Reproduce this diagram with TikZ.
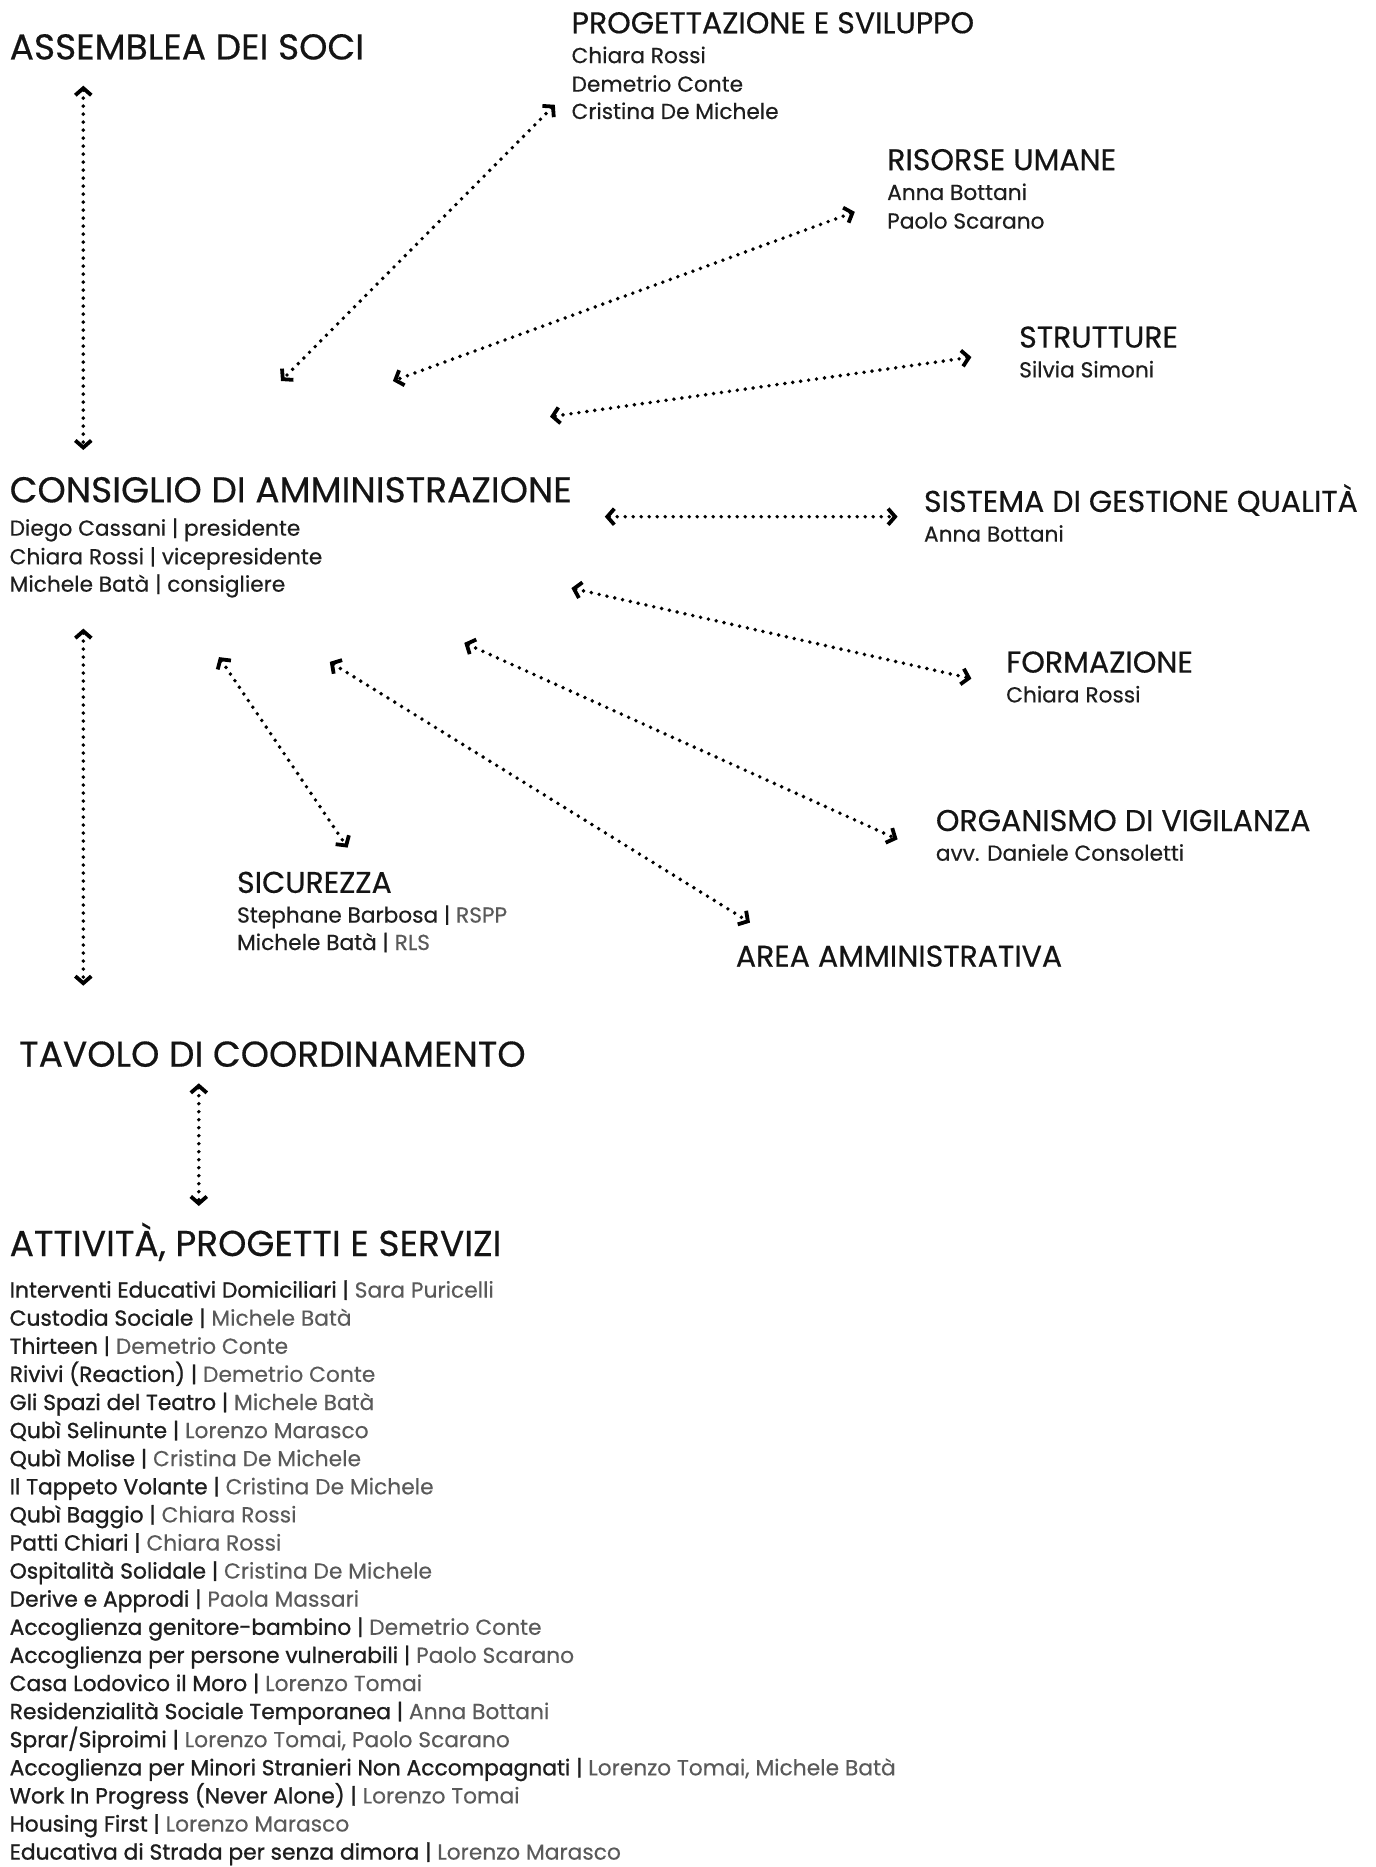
\documentclass[tikz,border=0pt]{standalone}
\usepackage{fontspec}
\setmainfont{Poppins}[FakeBold=0.4]
\newfontfamily\pitem{Poppins}[FakeBold=1.0]
\newfontfamily\pname{Poppins}[FakeBold=0.2]
\usetikzlibrary{arrows.meta}
\definecolor{ink}{HTML}{141414}
\definecolor{sub}{HTML}{1E1E1E}
\definecolor{soft}{HTML}{5A5A5A}
\newcommand{\lrow}[2]{{\pitem #1 |} \textcolor{soft}{\pname #2}}
\begin{document}
\begin{tikzpicture}[x=1pt,y=-1pt,
  big/.style={anchor=base west, inner sep=0pt, text=ink, font=\fontsize{36}{42}\selectfont},
  mid/.style={anchor=base west, inner sep=0pt, text=ink, font=\fontsize{30}{34}\selectfont},
  nm/.style={anchor=base west, inner sep=0pt, text=sub, font=\fontsize{21.7}{25}\selectfont},
  lst/.style={anchor=base west, inner sep=0pt, text=sub, font=\fontsize{21.8}{25}\selectfont},
  conn/.style={line width=3.9pt, line cap=round, dash pattern=on 0pt off 8pt,
    {Straight Barb[length=7pt,width=16pt,line width=3.8pt]}-{Straight Barb[length=7pt,width=16pt,line width=3.8pt]}}]
\useasboundingbox[fill=white] (0,0) rectangle (1375,1867);

% headings
\node[big] (ass) at (9.5,59.5) {ASSEMBLEA DEI SOCI};
\node[mid] (prog) at (571.4,33.3) {PROGETTAZIONE E SVILUPPO};
\node[nm] (prog1) at (571.4,63.1) {Chiara Rossi};
\node[nm] (prog2) at (571.4,91.7) {Demetrio Conte};
\node[nm] (prog3) at (571.4,119) {Cristina De Michele};

\node[mid] (ris) at (887,170.2) {RISORSE UMANE};
\node[nm] (ris1) at (887,200) {Anna Bottani};
\node[nm] (ris2) at (887,228.6) {Paolo Scarano};

\node[mid] (str) at (1019,347.6) {STRUTTURE};
\node[nm] (str1) at (1019,377.4) {Silvia Simoni};

\node[big] (cda) at (9.5,502.4) {CONSIGLIO DI AMMINISTRAZIONE};
\node[nm] (cda1) at (9.5,535.7) {Diego Cassani | presidente};
\node[nm] (cda2) at (9.5,564.3) {Chiara Rossi | vicepresidente};
\node[nm] (cda3) at (9.5,591.7) {Michele Batà | consigliere};

\node[mid] (sgq) at (923.8,511.9) {SISTEMA DI GESTIONE QUALITÀ};
\node[nm] (sgq1) at (923.8,541.7) {Anna Bottani};

\node[mid] (for) at (1006,672.6) {FORMAZIONE};
\node[nm] (for1) at (1006,702.4) {Chiara Rossi};

\node[mid] (odv) at (935.7,831) {ORGANISMO DI VIGILANZA};
\node[nm] (odv1) at (935.7,860.7) {avv. Daniele Consoletti};

\node[mid] (sic) at (236.9,892.9) {SICUREZZA};
\node[nm] (sic1) at (236.9,922.6) {Stephane Barbosa | \textcolor{soft}{\pname RSPP}};
\node[nm] (sic2) at (236.9,950) {Michele Batà | \textcolor{soft}{\pname RLS}};

\node[mid] (amm) at (735.7,966.7) {AREA AMMINISTRATIVA};

\node[big] (tav) at (19,1066.7) {TAVOLO DI COORDINAMENTO};
\node[big] (att) at (9.5,1256) {ATTIVITÀ, PROGETTI E SERVIZI};

% list
\node[lst] (l1) at (9.5,1297.6) {\lrow{Interventi Educativi Domiciliari}{Sara Puricelli}};
\node[lst] (l2) at (9.5,1325.7) {\lrow{Custodia Sociale}{Michele Batà}};
\node[lst] (l3) at (9.5,1353.8) {\lrow{Thirteen}{Demetrio Conte}};
\node[lst] (l4) at (9.5,1381.9) {\lrow{Rivivi (Reaction)}{Demetrio Conte}};
\node[lst] (l5) at (9.5,1410.0) {\lrow{Gli Spazi del Teatro}{Michele Batà}};
\node[lst] (l6) at (9.5,1438.1) {\lrow{Qubì Selinunte}{Lorenzo Marasco}};
\node[lst] (l7) at (9.5,1466.2) {\lrow{Qubì Molise}{Cristina De Michele}};
\node[lst] (l8) at (9.5,1494.3) {\lrow{Il Tappeto Volante}{Cristina De Michele}};
\node[lst] (l9) at (9.5,1522.4) {\lrow{Qubì Baggio}{Chiara Rossi}};
\node[lst] (l10) at (9.5,1550.5) {\lrow{Patti Chiari}{Chiara Rossi}};
\node[lst] (l11) at (9.5,1578.6) {\lrow{Ospitalità Solidale}{Cristina De Michele}};
\node[lst] (l12) at (9.5,1606.7) {\lrow{Derive e Approdi}{Paola Massari}};
\node[lst] (l13) at (9.5,1634.8) {\lrow{Accoglienza genitore-bambino}{Demetrio Conte}};
\node[lst] (l14) at (9.5,1662.9) {\lrow{Accoglienza per persone vulnerabili}{Paolo Scarano}};
\node[lst] (l15) at (9.5,1691.0) {\lrow{Casa Lodovico il Moro}{Lorenzo Tomai}};
\node[lst] (l16) at (9.5,1719.1) {\lrow{Residenzialità Sociale Temporanea}{Anna Bottani}};
\node[lst] (l17) at (9.5,1747.2) {\lrow{Sprar/Siproimi}{Lorenzo Tomai, Paolo Scarano}};
\node[lst] (l18) at (9.5,1775.3) {\lrow{Accoglienza per Minori Stranieri Non Accompagnati}{Lorenzo Tomai, Michele Batà}};
\node[lst] (l19) at (9.5,1803.4) {\lrow{Work In Progress (Never Alone)}{Lorenzo Tomai}};
\node[lst] (l20) at (9.5,1831.5) {\lrow{Housing First}{Lorenzo Marasco}};
\node[lst] (l21) at (9.5,1859.6) {\lrow{Educativa di Strada per senza dimora}{Lorenzo Marasco}};

% connector end points
\coordinate (a1) at (83.3,85.7);   \coordinate (a2) at (83.3,450);
\coordinate (b1) at (554.8,104.8); \coordinate (b2) at (281,381);
\coordinate (c1) at (854.8,211.9); \coordinate (c2) at (392.9,381);
\coordinate (d1) at (971.4,357.1); \coordinate (d2) at (550,416.7);
\coordinate (e1) at (604.8,516.7); \coordinate (e2) at (897.6,516.7);
\coordinate (f1) at (571.4,588.1); \coordinate (f2) at (971.4,678.6);
\coordinate (g1) at (464.3,642.9); \coordinate (g2) at (897.6,839.3);
\coordinate (h1) at (329.8,661.9); \coordinate (h2) at (750,922.6);
\coordinate (i1) at (219,657.1);   \coordinate (i2) at (347.6,847.6);
\coordinate (j1) at (83.3,628.6);  \coordinate (j2) at (83.3,985.7);
\coordinate (k1) at (198.8,1083.3);\coordinate (k2) at (198.8,1206);

\draw[conn] (a1) -- (a2);
\draw[conn] (b1) -- (b2);
\draw[conn] (c1) -- (c2);
\draw[conn] (d1) -- (d2);
\draw[conn] (e1) -- (e2);
\draw[conn] (f1) -- (f2);
\draw[conn] (g1) -- (g2);
\draw[conn] (h1) -- (h2);
\draw[conn] (i1) -- (i2);
\draw[conn] (j1) -- (j2);
\draw[conn] (k1) -- (k2);
\end{tikzpicture}
\end{document}
